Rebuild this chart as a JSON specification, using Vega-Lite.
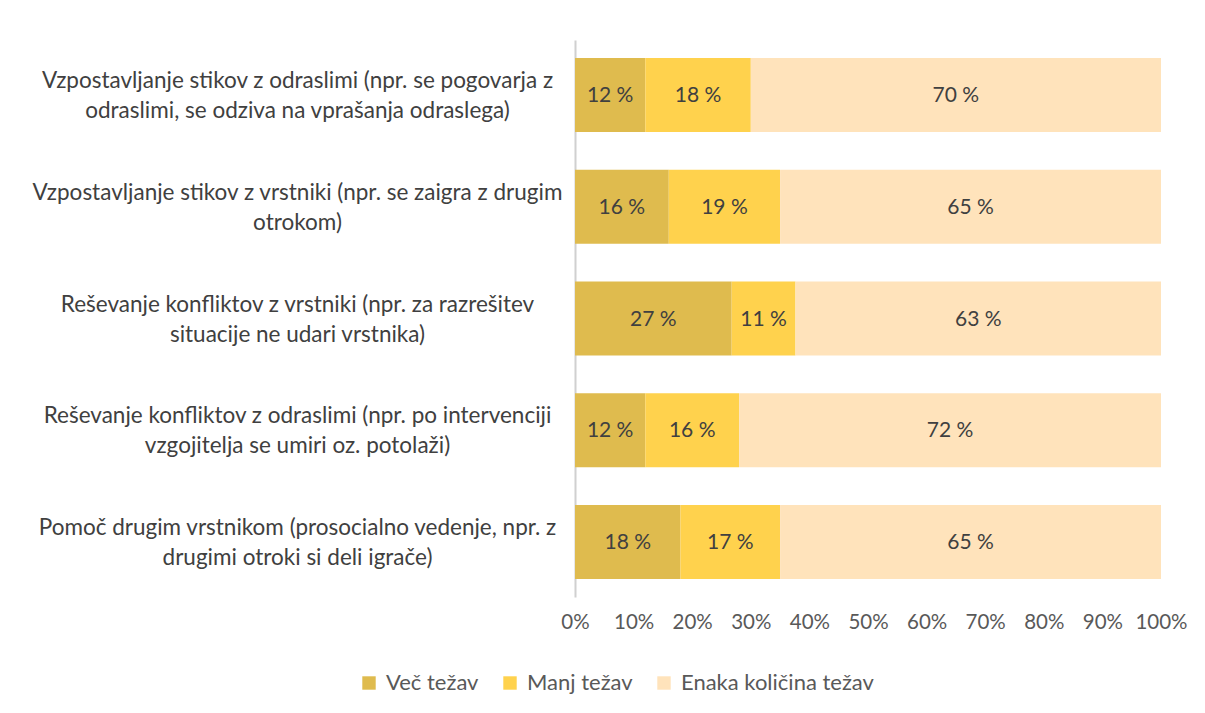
{
  "$schema": "https://vega.github.io/schema/vega-lite/v6.json",
  "width": 586,
  "height": 557,
  "autosize": {"type": "none"},
  "padding": {"left": 575, "top": 40, "right": 44, "bottom": 116},
  "background": "white",
  "config": {"font": "Lato", "view": {"stroke": null}},
  "data": {"values": [
    {"cat": "Vzpostavljanje stikov z odraslimi (npr. se pogovarja z|odraslimi, se odziva na vprašanja odraslega)", "s": "Več težav", "o": 1, "v": 12},
    {"cat": "Vzpostavljanje stikov z odraslimi (npr. se pogovarja z|odraslimi, se odziva na vprašanja odraslega)", "s": "Manj težav", "o": 2, "v": 18},
    {"cat": "Vzpostavljanje stikov z odraslimi (npr. se pogovarja z|odraslimi, se odziva na vprašanja odraslega)", "s": "Enaka količina težav", "o": 3, "v": 70},
    {"cat": "Vzpostavljanje stikov z vrstniki (npr. se zaigra z drugim|otrokom)", "s": "Več težav", "o": 1, "v": 16},
    {"cat": "Vzpostavljanje stikov z vrstniki (npr. se zaigra z drugim|otrokom)", "s": "Manj težav", "o": 2, "v": 19},
    {"cat": "Vzpostavljanje stikov z vrstniki (npr. se zaigra z drugim|otrokom)", "s": "Enaka količina težav", "o": 3, "v": 65},
    {"cat": "Reševanje konfliktov z vrstniki (npr. za razrešitev|situacije ne udari vrstnika)", "s": "Več težav", "o": 1, "v": 27},
    {"cat": "Reševanje konfliktov z vrstniki (npr. za razrešitev|situacije ne udari vrstnika)", "s": "Manj težav", "o": 2, "v": 11},
    {"cat": "Reševanje konfliktov z vrstniki (npr. za razrešitev|situacije ne udari vrstnika)", "s": "Enaka količina težav", "o": 3, "v": 63},
    {"cat": "Reševanje konfliktov z odraslimi (npr. po intervenciji|vzgojitelja se umiri oz. potolaži)", "s": "Več težav", "o": 1, "v": 12},
    {"cat": "Reševanje konfliktov z odraslimi (npr. po intervenciji|vzgojitelja se umiri oz. potolaži)", "s": "Manj težav", "o": 2, "v": 16},
    {"cat": "Reševanje konfliktov z odraslimi (npr. po intervenciji|vzgojitelja se umiri oz. potolaži)", "s": "Enaka količina težav", "o": 3, "v": 72},
    {"cat": "Pomoč drugim vrstnikom (prosocialno vedenje, npr. z|drugimi otroki si deli igrače)", "s": "Več težav", "o": 1, "v": 18},
    {"cat": "Pomoč drugim vrstnikom (prosocialno vedenje, npr. z|drugimi otroki si deli igrače)", "s": "Manj težav", "o": 2, "v": 17},
    {"cat": "Pomoč drugim vrstnikom (prosocialno vedenje, npr. z|drugimi otroki si deli igrače)", "s": "Enaka količina težav", "o": 3, "v": 65}
  ]},
  "transform": [
    {"stack": "v", "groupby": ["cat"], "sort": [{"field": "o"}], "as": ["a", "b"], "offset": "normalize"},
    {"calculate": "(datum.a + datum.b) / 2", "as": "mid"},
    {"calculate": "datum.v + ' %'", "as": "lab"}
  ],
  "layer": [
    {
      "mark": {"type": "bar"},
      "encoding": {
        "y": {
          "field": "cat", "type": "nominal", "sort": null,
          "scale": {"paddingInner": 0.336, "paddingOuter": 0.16},
          "axis": {
            "title": null, "ticks": false, "tickSize": 0, "labelAlign": "center", "labelBaseline": "middle",
            "labelPadding": 278, "labelFontSize": 22.5, "labelColor": "#404040", "labelLineHeight": 30,
            "labelOffset": -14,
            "labelLimit": 0, "labelExpr": "split(datum.label, '|')",
            "domain": true, "domainColor": "#d0d0d0", "domainWidth": 2, "grid": false
          }
        },
        "x": {
          "field": "a", "type": "quantitative", "scale": {"domain": [0, 1]},
          "axis": {
            "title": null, "format": "%", "values": [0, 0.1, 0.2, 0.3, 0.4, 0.5, 0.6, 0.7, 0.8, 0.9, 1],
            "grid": false, "domain": false, "ticks": false, "labelPadding": 15, "labelFlush": false,
            "labelOverlap": false, "labelFontSize": 20.5, "labelColor": "#595959"
          }
        },
        "x2": {"field": "b"},
        "color": {
          "field": "s", "type": "nominal",
          "scale": {"domain": ["Več težav", "Manj težav", "Enaka količina težav"], "range": ["#DFBB4E", "#FFD24D", "#FFE3BB"]},
          "legend": {
            "title": null, "orient": "none", "direction": "horizontal", "legendX": -217, "legendY": 632,
            "symbolType": "square", "symbolSize": 180, "symbolStrokeWidth": 0, "labelFontSize": 22,
            "labelColor": "#595959", "labelOffset": 6, "columnPadding": 20, "labelLimit": 0
          }
        }
      }
    },
    {
      "mark": {"type": "text", "fontSize": 21, "color": "#404040", "dy": 1},
      "encoding": {
        "y": {"field": "cat", "type": "nominal", "sort": null},
        "x": {"field": "mid", "type": "quantitative"},
        "text": {"field": "lab"}
      }
    }
  ]
}
